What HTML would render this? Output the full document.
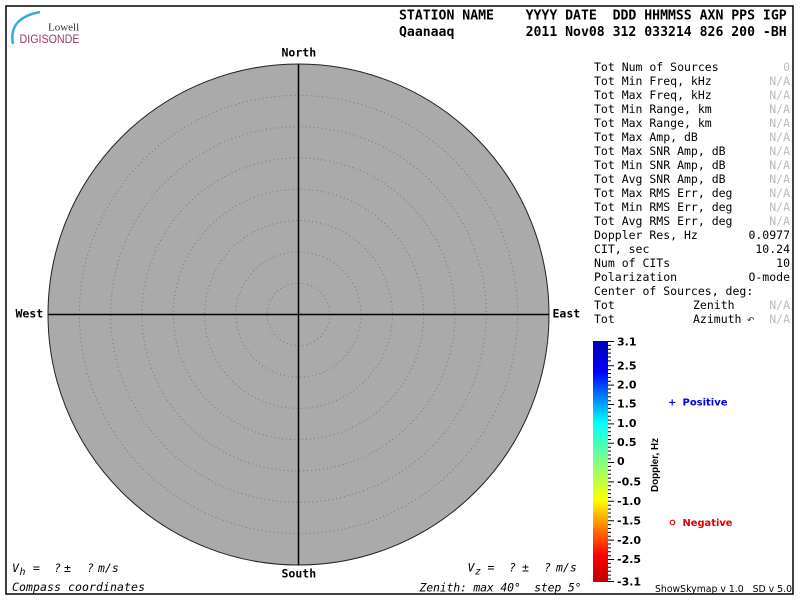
<!DOCTYPE html>
<html><head><meta charset="utf-8"><style>
html,body{margin:0;padding:0;background:#fff;}
svg{display:block;}
.mono{font-family:"DejaVu Sans Mono","Liberation Mono",monospace;}
</style></head><body>
<svg width="800" height="600" viewBox="0 0 800 600" xmlns="http://www.w3.org/2000/svg">
<defs>
<linearGradient id="cb" x1="0" y1="0" x2="0" y2="1">
<stop offset="0" stop-color="#0000b4"/>
<stop offset="0.129" stop-color="#0000ff"/>
<stop offset="0.339" stop-color="#00ffff"/>
<stop offset="0.5" stop-color="#80ff80"/>
<stop offset="0.661" stop-color="#ffff00"/>
<stop offset="0.887" stop-color="#ff0000"/>
<stop offset="1" stop-color="#c00000"/>
</linearGradient>
</defs>
<rect x="0" y="0" width="800" height="600" fill="#fff"/>
<rect x="6" y="6" width="787" height="588" fill="none" stroke="#000" stroke-width="1.5"/>

<!-- logo -->
<path d="M13 44 Q8 18 40 12" fill="none" stroke="#3aa8d8" stroke-width="2.5"/>
<text x="48" y="30.5" font-family="Liberation Serif,serif" font-size="11" fill="#333">Lowell</text>
<text x="19.5" y="43" font-family="Liberation Sans,sans-serif" font-size="11.5" fill="#a0336a" textLength="60" lengthAdjust="spacingAndGlyphs">DIGISONDE</text>

<!-- header -->
<g class="mono" font-weight="bold" font-size="13.15" fill="#000">
<text x="399" y="19.5" xml:space="preserve">STATION NAME    YYYY DATE  DDD HHMMSS AXN PPS IGP</text>
<text x="399" y="36" xml:space="preserve">Qaanaaq         2011 Nov08 312 033214 826 200 -BH</text>
</g>

<!-- polar plot -->
<circle cx="298.5" cy="314.5" r="250.5" fill="#aaaaaa" stroke="#222" stroke-width="1"/>
<g fill="none" stroke="#7a7a7a" stroke-width="1" stroke-dasharray="1 3">
<circle cx="298.5" cy="314.5" r="31.3"/>
<circle cx="298.5" cy="314.5" r="62.6"/>
<circle cx="298.5" cy="314.5" r="93.9"/>
<circle cx="298.5" cy="314.5" r="125.2"/>
<circle cx="298.5" cy="314.5" r="156.5"/>
<circle cx="298.5" cy="314.5" r="187.8"/>
<circle cx="298.5" cy="314.5" r="219.1"/>
</g>
<line x1="298.5" y1="64" x2="298.5" y2="565" stroke="#000" stroke-width="1.5"/>
<line x1="48" y1="314.5" x2="549" y2="314.5" stroke="#000" stroke-width="1.5"/>

<g class="mono" font-weight="bold" font-size="11.5" fill="#000">
<text x="281.5" y="56.5">North</text>
<text x="281.5" y="577.5">South</text>
<text x="15.5" y="317.5">West</text>
<text x="552.5" y="317.5">East</text>
</g>

<!-- right panel -->
<g class="mono" font-size="11.5" fill="#000">
<text x="594" y="71">Tot Num of Sources</text>
<text x="594" y="85">Tot Min Freq, kHz</text>
<text x="594" y="99">Tot Max Freq, kHz</text>
<text x="594" y="113">Tot Min Range, km</text>
<text x="594" y="127">Tot Max Range, km</text>
<text x="594" y="141">Tot Max Amp, dB</text>
<text x="594" y="155">Tot Max SNR Amp, dB</text>
<text x="594" y="169">Tot Min SNR Amp, dB</text>
<text x="594" y="183">Tot Avg SNR Amp, dB</text>
<text x="594" y="197">Tot Max RMS Err, deg</text>
<text x="594" y="211">Tot Min RMS Err, deg</text>
<text x="594" y="225">Tot Avg RMS Err, deg</text>
<text x="594" y="239">Doppler Res, Hz</text>
<text x="594" y="253">CIT, sec</text>
<text x="594" y="267">Num of CITs</text>
<text x="594" y="281">Polarization</text>
<text x="594" y="295">Center of Sources, deg:</text>
<text x="594" y="309">Tot</text>
<text x="594" y="323">Tot</text>
<text x="693" y="309">Zenith</text>
<text x="693" y="323">Azimuth</text>
</g>
<g class="mono" font-size="11.5" fill="#000" text-anchor="end">
<text x="790" y="239">0.0977</text>
<text x="790" y="253">10.24</text>
<text x="790" y="267">10</text>
<text x="790" y="281">O-mode</text>
</g>
<g class="mono" font-size="11.5" fill="#bbbbbb" text-anchor="end">
<text x="790" y="71">0</text>
<text x="790" y="85">N/A</text>
<text x="790" y="99">N/A</text>
<text x="790" y="113">N/A</text>
<text x="790" y="127">N/A</text>
<text x="790" y="141">N/A</text>
<text x="790" y="155">N/A</text>
<text x="790" y="169">N/A</text>
<text x="790" y="183">N/A</text>
<text x="790" y="197">N/A</text>
<text x="790" y="211">N/A</text>
<text x="790" y="225">N/A</text>
<text x="790" y="309">N/A</text>
<text x="790" y="323">N/A</text>
</g>
<text x="747" y="323" font-family="DejaVu Sans,sans-serif" font-size="9" fill="#333">↶</text>

<!-- colorbar -->
<rect x="593" y="341" width="15" height="241" fill="url(#cb)"/>
<g stroke="#000" stroke-width="1">
<path d="M608 341.5h6 M608 365.7h6 M608 385.1h6 M608 404.5h6 M608 423.9h6 M608 443.3h6 M608 462.5h6 M608 481.9h6 M608 501.3h6 M608 520.7h6 M608 540.1h6 M608 559.5h6 M608 581.5h6"/>
<path d="M608 345.4h3 M608 349.3h3 M608 353.1h3 M608 357h3 M608 360.9h3 M608 369.6h3 M608 373.5h3 M608 377.4h3 M608 381.3h3 M608 389h3 M608 392.9h3 M608 396.8h3 M608 400.7h3 M608 408.4h3 M608 412.3h3 M608 416.2h3 M608 420.1h3 M608 427.8h3 M608 431.7h3 M608 435.6h3 M608 439.5h3 M608 447.2h3 M608 451.1h3 M608 455h3 M608 458.9h3 M608 466.4h3 M608 470.3h3 M608 474.2h3 M608 478.1h3 M608 485.8h3 M608 489.7h3 M608 493.6h3 M608 497.5h3 M608 505.2h3 M608 509.1h3 M608 513h3 M608 516.9h3 M608 524.6h3 M608 528.5h3 M608 532.4h3 M608 536.3h3 M608 544h3 M608 547.9h3 M608 551.8h3 M608 555.7h3 M608 563.4h3 M608 567.3h3 M608 571.2h3 M608 575.1h3 M608 579h3"/>
</g>
<g font-family="DejaVu Sans,sans-serif" font-weight="bold" font-size="11" fill="#000">
<text x="617" y="345.5">3.1</text>
<text x="617" y="369.5">2.5</text>
<text x="617" y="388.5">2.0</text>
<text x="617" y="407.5">1.5</text>
<text x="617" y="427">1.0</text>
<text x="617" y="446">0.5</text>
<text x="617" y="465">0</text>
<text x="617" y="485.5">-0.5</text>
<text x="617" y="505">-1.0</text>
<text x="617" y="524.5">-1.5</text>
<text x="617" y="544">-2.0</text>
<text x="617" y="563">-2.5</text>
<text x="617" y="585.5">-3.1</text>
</g>
<text transform="translate(658,492) rotate(-90)" font-family="Liberation Sans,sans-serif" font-weight="bold" font-size="10" fill="#000" textLength="54" lengthAdjust="spacingAndGlyphs">Doppler, Hz</text>

<text x="668" y="405.5" font-family="DejaVu Sans,sans-serif" font-weight="bold" font-size="10" fill="#0000e0">+</text>
<text x="682.5" y="405.5" font-family="DejaVu Sans,sans-serif" font-weight="bold" font-size="10" fill="#0000e0" textLength="45" lengthAdjust="spacingAndGlyphs">Positive</text>
<circle cx="672.5" cy="522.5" r="2.3" fill="none" stroke="#e00000" stroke-width="1.2"/>
<text x="682.5" y="526" font-family="DejaVu Sans,sans-serif" font-weight="bold" font-size="10" fill="#e00000" textLength="50" lengthAdjust="spacingAndGlyphs">Negative</text>

<!-- bottom texts -->
<g class="mono" font-style="italic" font-size="11.5" fill="#000">
<text x="12" y="572">V</text>
<text x="19.5" y="575" font-size="10">h</text>
<text x="33" y="572">=</text>
<text x="54" y="572">?</text>
<text x="64" y="572">±</text>
<text x="87" y="572">?</text>
<text x="98" y="572">m/s</text>
<text x="467.5" y="571.5">V</text>
<text x="475" y="574.5" font-size="10">z</text>
<text x="487.5" y="571.5">=</text>
<text x="509" y="571.5">?</text>
<text x="522" y="571.5">±</text>
<text x="544" y="571.5">?</text>
<text x="556" y="571.5">m/s</text>
<text x="12" y="591" textLength="133" lengthAdjust="spacing">Compass coordinates</text>
<text x="419.5" y="591.5" textLength="162" lengthAdjust="spacing" xml:space="preserve">Zenith: max 40°  step 5°</text>
</g>
<text x="655" y="592" font-family="DejaVu Sans,sans-serif" font-size="9.5" fill="#000" textLength="137" lengthAdjust="spacingAndGlyphs" xml:space="preserve">ShowSkymap v 1.0   SD v 5.0</text>
</svg>
</body></html>
